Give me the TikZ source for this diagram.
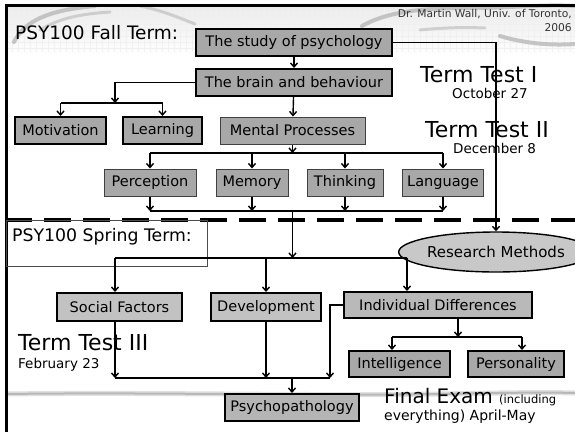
\documentclass[tikz,border=0pt]{standalone}
\usepackage{fontspec}
\setmainfont{DejaVu Sans}
\usetikzlibrary{arrows.meta,shapes.geometric}
\definecolor{boxA}{HTML}{A8A8A8}
\definecolor{boxB}{HTML}{C2C2C2}
\definecolor{ellc}{HTML}{C8C8C8}
\definecolor{swoosh}{HTML}{B8B8B8}
\newcommand{\fsz}[1]{\fontsize{#1}{#1}\selectfont}
\tikzset{
  boxbase/.style={rectangle, inner sep=0pt, minimum height=27pt, font=\fsz{14.5}},
  thickbox/.style={boxbase, draw=black, line width=2pt, fill=boxA},
  thinbox/.style={boxbase, draw=black!75, line width=1pt, fill=boxA},
  springbox/.style={boxbase, draw=black, line width=2pt, fill=boxB},
  conn/.style={line width=1.4pt, black},
  arr/.style={conn, -{Straight Barb[length=4pt,width=7pt,line width=1.4pt]}},
  lbl/.style={inner sep=0pt, anchor=west},
}
\begin{document}
\begin{tikzpicture}[x=1pt,y=-1pt]
\useasboundingbox (0,0) rectangle (575,432);
\fill[white] (0,0) rectangle (575,432);
% header texture
\shade[top color=black!8, bottom color=white] (6,5) rectangle (575,56);
\begin{scope}
\clip (6,5) rectangle (575,52);
\draw[black!6, line width=0.5pt] (6,5) grid[step=6pt] (575,52);
\end{scope}
\draw[swoosh, line width=4pt, line cap=round, opacity=0.8] (14,42) .. controls (25,20) and (50,10) .. (95,6);
\draw[swoosh, line width=3pt, line cap=round, opacity=0.6] (40,30) .. controls (60,18) and (80,14) .. (110,12);
\draw[swoosh, line width=3pt, line cap=round, opacity=0.6] (140,6) .. controls (160,10) and (175,16) .. (195,24);
\draw[swoosh, line width=4pt, line cap=round, opacity=0.8] (362,26) .. controls (390,10) and (430,8) .. (470,8) .. controls (510,8) and (545,4) .. (575,6);
\draw[swoosh, line width=3pt, line cap=round, opacity=0.6] (420,30) .. controls (440,28) and (460,27) .. (485,28);
\draw[swoosh, line width=4pt, line cap=round, opacity=0.8] (500,36) .. controls (520,42) and (545,46) .. (575,44);
% bottom swoosh
\draw[black!12, line width=5pt] (6,394) .. controls (150,392) and (300,396) .. (440,394) .. controls (500,393) and (540,392) .. (575,393);
\draw[swoosh, line width=2pt] (6,394) .. controls (150,392) and (300,396) .. (440,394) .. controls (500,393) and (540,392) .. (575,393);
% frame
\draw[black, line width=3pt] (6,432) -- (6,5) -- (575,5);
% dashed divider
\draw[black, line width=4pt, dash pattern=on 27pt off 12pt] (5,220) -- (575,220);
% spring label box
\draw[black!70, line width=0.8pt] (6,220) rectangle (207,266);

% texts
\node[lbl, font=\fsz{18.5}] (fall) at (15,33) {PSY100 Fall Term:};
\node[lbl, font=\fsz{17.3}] (spring) at (12,237) {PSY100 Spring Term:};
\node[lbl, font=\fsz{22}] (tt1) at (420,75) {Term Test I};
\node[lbl, font=\fsz{13.5}] (oct) at (452,93) {October 27};
\node[lbl, font=\fsz{22}] (tt2) at (425,130) {Term Test II};
\node[lbl, font=\fsz{13.5}] (dec) at (453,148) {December 8};
\node[lbl, font=\fsz{22}] (tt3) at (18,343) {Term Test III};
\node[lbl, font=\fsz{13.5}] (feb) at (18,365) {February 23};
\node[lbl, font=\fsz{20}] (final) at (384,397) {Final Exam {\fsz{11.5}(including}};
\node[lbl, font=\fsz{14}] (every) at (384,417) {everything) April-May};
\node[inner sep=0pt, anchor=north east, align=right, font={\fontsize{10.7}{14}\selectfont}, text=black!80] (author) at (572,9) {Dr. Martin Wall, Univ. of Toronto,\\2006};

% fall nodes
\node[thickbox, minimum width=196pt] (study) at (294,42.5) {The study of psychology};
\node[thickbox, minimum width=196pt] (brain) at (294,82.5) {The brain and behaviour};
\node[thickbox, minimum width=91pt] (motiv) at (60.5,130.5) {Motivation};
\node[thickbox, minimum width=79pt] (learn) at (162.5,130.5) {Learning};
\node[thinbox, minimum width=145pt] (mental) at (292.5,130.5) {Mental Processes};
\node[thinbox, minimum width=92pt] (percep) at (150,182.5) {Perception};
\node[thinbox, minimum width=72pt] (memory) at (252,182.5) {Memory};
\node[thinbox, minimum width=76pt] (think) at (345,182.5) {Thinking};
\node[thinbox, minimum width=81pt] (lang) at (443,182.5) {Language};
% spring nodes
\node[ellipse, draw=black, line width=1.4pt, fill=ellc, minimum width=158pt, minimum height=40pt, inner sep=0pt, font=\fsz{15}] (research) at (496,252) {Research Methods};
\node[springbox, minimum width=125pt, minimum height=28pt] (social) at (119.5,307) {Social Factors};
\node[springbox, minimum width=110pt, minimum height=28pt] (devel) at (266,307) {Development};
\node[springbox, minimum width=188pt, minimum height=26pt, fill=boxA!80] (indiv) at (438,305) {Individual Differences};
\node[springbox, minimum width=101pt, minimum height=26pt, fill=boxA] (intel) at (399.5,364) {Intelligence};
\node[springbox, minimum width=96pt, minimum height=26pt, fill=boxA] (person) at (516,364) {Personality};
\node[springbox, minimum width=134pt, fill=boxA!85] (psycho) at (292,407.5) {Psychopathology};

% junction coordinates
\coordinate (bL) at (115,103);
\coordinate (bM) at (292.5,153);
\coordinate (bB) at (292.5,211);
\coordinate (bS) at (292.5,258);
\coordinate (sL) at (115,258);
\coordinate (sR) at (407,258);
\coordinate (pL) at (115,378);
\coordinate (pR) at (330,378);
\coordinate (pC) at (292,378);
\coordinate (iC) at (458,337);
\coordinate (iL) at (392,337);
\coordinate (iR) at (522,337);

% fall connectors
\draw[arr] (study) -- (brain);
\draw[arr] (brain) -- (mental);
\draw[arr] (brain.west) -| (bL);
\draw[conn] (motiv.north |- bL) -- (learn.north |- bL);
\draw[arr] (motiv.north |- bL) -- (motiv.north);
\draw[arr] (learn.north |- bL) -- (learn.north);
\draw[arr] (mental.south) -- (bM);
\draw[conn] (percep.north |- bM) -- (lang.north |- bM);
\foreach \n in {percep,memory,think,lang}{
  \draw[arr] (\n.north |- bM) -- (\n.north);
  \draw[arr] (\n.south) -- (\n.south |- bB);
}
\draw[conn] (percep.south |- bB) -- (lang.south |- bB);
\draw[arr] (study.east) -| (research.north);
% spring connectors
\draw[arr] (bB) -- (bS);
\draw[conn] (sL) -- (sR);
\draw[arr] (sL) -- (sL |- social.north);
\draw[arr] (devel.north |- sL) -- (devel.north);
\draw[arr] (sR) -- (sR |- indiv.north);
\draw[arr] (sL |- social.south) -- (pL);
\draw[arr] (devel.south) -- (devel.south |- pL);
\draw[arr] (indiv.west) -| (pR);
\draw[conn] (pL) -- (pR);
\draw[arr] (pC) -- (psycho.north);
\draw[arr] (iC |- indiv.south) -- (iC);
\draw[conn] (iL) -- (iR);
\draw[arr] (iL) -- (iL |- intel.north);
\draw[arr] (iR) -- (iR |- person.north);
\end{tikzpicture}
\end{document}
